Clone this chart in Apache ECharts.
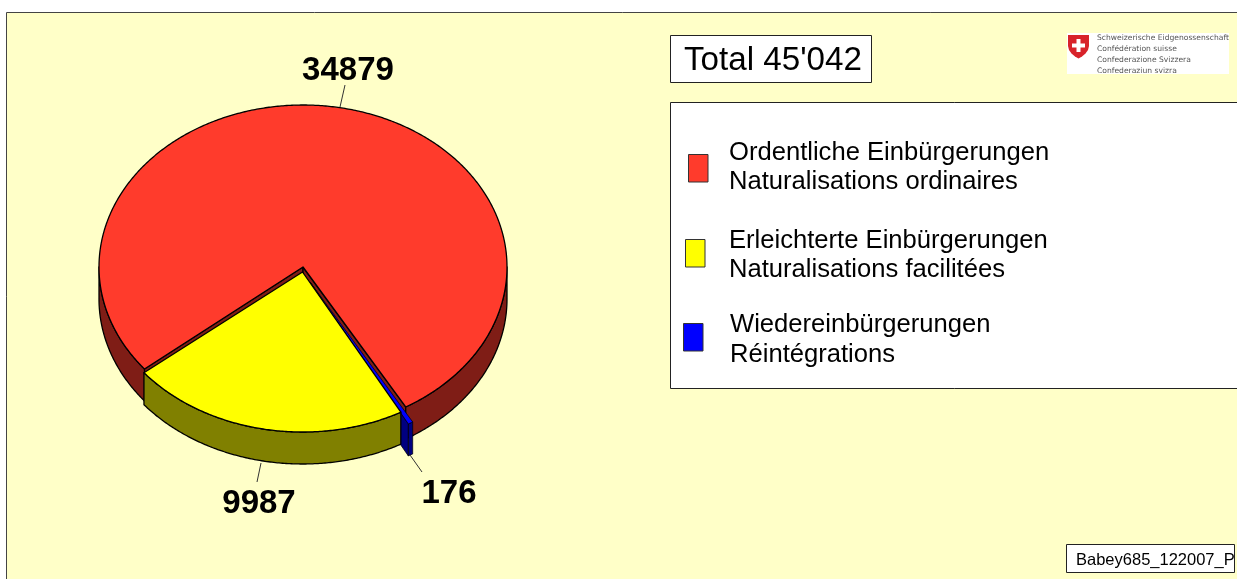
<!DOCTYPE html>
<html>
<head>
<meta charset="utf-8">
<style>html,body{margin:0;padding:0;background:#fff}#c{width:1237px;height:579px}</style>
<script src="https://cdn.jsdelivr.net/npm/echarts@6/dist/echarts.min.js"></script>
</head>
<body>
<div id="c"></div>
<script>
// ---- data ----
const categoriesDe = ['Ordentliche Einbürgerungen', 'Erleichterte Einbürgerungen', 'Wiedereinbürgerungen'];
const categoriesFr = ['Naturalisations ordinaires', 'Naturalisations facilitées', 'Réintégrations'];
const values = [34879, 9987, 176];
const totalLabel = "Total 45'042";
const footerLabel = 'Babey685_122007_P';
const logoLines = ['Schweizerische Eidgenossenschaft', 'Confédération suisse', 'Confederazione Svizzera', 'Confederaziun svizra'];

// ---- styles / layout ----
const topColors = ['#FF3B2C', '#FFFF00', '#0000FF'];
const wallColors = ['#7F1D16', '#808000', '#000080'];
const pie = {cx: 303, cy: 267, rx: 204, depth: 32, start: 141};
const radiusY = [162, 160, 162];                          // per slice
const explode = [[0, 0], [-0.5, 5], [7, 15]];             // per slice offset
const edgeWidth = [1.3, 1.3, 0.7];                        // per slice outline
const paintOrder = [0, 2, 1];                             // clockwise from start, back to front
const valueLabels = [
  {x: 348, y: 71, line: [340, 107, 345, 85]},
  {x: 259, y: 504, line: [261, 463, 257, 482]},
  {x: 449, y: 494, line: [410, 455, 422, 472]}
];
const legendRows = [
  {sx: 688, sy: 154, tx: 729, y1: 153, y2: 182},
  {sx: 685, sy: 239, tx: 729, y1: 241, y2: 270},
  {sx: 683, sy: 323, tx: 730, y1: 325, y2: 355}
];
const BG = '#FFFFC8';
const FONT = '"Liberation Sans", Arial, sans-serif';

const total = values.reduce((a, b) => a + b, 0);
// sweep angles follow the data values
const angles = {};
let acc = pie.start;
paintOrder.forEach(i => {
  const sweep = values[i] / total * 360;
  angles[i] = [acc, acc + sweep];
  acc += sweep;
});

function rim(c, deg, ry) {
  const t = deg * Math.PI / 180;
  return [c[0] + pie.rx * Math.cos(t), c[1] + ry * Math.sin(t)];
}
function arcPoints(c, a, b, ry) {
  const pts = [];
  const n = Math.max(2, Math.ceil(Math.abs(b - a) * 2));
  for (let k = 0; k <= n; k++) pts.push(rim(c, a + (b - a) * k / n, ry));
  return pts;
}
function down(p) { return [p[0], p[1] + pie.depth]; }

function renderItem(params, api) {
  const i = api.value(1);
  const [a, b] = angles[i];
  const ry = radiusY[i];
  const c = [pie.cx + explode[i][0], pie.cy + explode[i][1]];
  const children = [];
  const wall = wallColors[i];
  const poly = (points, fill) => children.push({
    type: 'polygon', shape: {points}, style: {fill, stroke: '#000', lineWidth: edgeWidth[i], lineJoin: 'round'}
  });
  // radial faces that look towards the viewer
  [[a, Math.cos(a * Math.PI / 180) < 0], [b, Math.cos(b * Math.PI / 180) > 0]].forEach(([ang, vis]) => {
    if (!vis) return;
    const p = rim(c, ang, ry);
    poly([c, p, down(p), down(c)], wall);
  });
  // outer wall: only the front half of the rim
  for (let k = 0; k <= 2; k++) {
    const lo = Math.max(a, k * 360), hi = Math.min(b, k * 360 + 180);
    if (hi > lo) {
      const top = arcPoints(c, lo, hi, ry);
      poly(top.concat(top.map(down).reverse()), wall);
    }
  }
  // top face
  poly([c].concat(arcPoints(c, a, b, ry)), topColors[i]);
  // leader and label
  const L = valueLabels[i];
  children.push({type: 'line', shape: {x1: L.line[0], y1: L.line[1], x2: L.line[2], y2: L.line[3]},
    style: {stroke: '#333', lineWidth: 1}});
  children.push({type: 'text', style: {
    text: String(api.value(0)), x: L.x, y: L.y, align: 'center', verticalAlign: 'middle',
    font: 'bold 33px ' + FONT, fill: '#000'}});
  return {type: 'group', children};
}

const boxStyle = {fill: '#fff', stroke: '#222', lineWidth: 1};
// shield outline of the logo
const shield = [[1068,35],[1089,35],[1089,46],[1088,50],[1085.5,53.5],[1082,56.5],[1078.5,58.5],[1075,56.5],[1071.5,53.5],[1069,50],[1068,46]];
const graphic = [
  {type: 'rect', z: -10, shape: {x: 6.5, y: 12.5, width: 1240, height: 580}, style: {fill: BG, stroke: '#444', lineWidth: 1}},
  {type: 'rect', shape: {x: 670.5, y: 35.5, width: 201, height: 47}, style: boxStyle},
  {type: 'text', style: {text: totalLabel, x: 684, y: 61, verticalAlign: 'middle', font: '33.2px ' + FONT, fill: '#000'}},
  {type: 'rect', shape: {x: 670.5, y: 102.5, width: 570, height: 286}, style: boxStyle},
  {type: 'rect', shape: {x: 1066.5, y: 544.5, width: 168, height: 28}, style: boxStyle},
  {type: 'text', style: {text: footerLabel, x: 1076, y: 560, verticalAlign: 'middle', font: '16.5px ' + FONT, fill: '#000'}},
  // logo
  {type: 'rect', shape: {x: 1067, y: 33, width: 162, height: 41}, style: {fill: '#fff'}},
  {type: 'polygon', shape: {points: shield}, style: {fill: '#D8232A'}},
  {type: 'rect', shape: {x: 1076.5, y: 39, width: 4, height: 13}, style: {fill: '#fff'}},
  {type: 'rect', shape: {x: 1072, y: 43.5, width: 13, height: 4}, style: {fill: '#fff'}}
];
logoLines.forEach((t, i) => graphic.push({type: 'text', style: {
  text: t, x: 1097, y: [38.5, 49, 60.5, 71][i], verticalAlign: 'middle', font: '7.6px "DejaVu Sans", sans-serif', fill: '#555'}}));
legendRows.forEach((r, i) => {
  graphic.push({type: 'rect', shape: {x: r.sx + .5, y: r.sy + .5, width: 19.5, height: 27.5}, style: {fill: topColors[i], stroke: '#333', lineWidth: 1}});
  graphic.push({type: 'text', style: {text: categoriesDe[i], x: r.tx, y: r.y1, verticalAlign: 'middle', font: '25.6px ' + FONT, fill: '#000'}});
  graphic.push({type: 'text', style: {text: categoriesFr[i], x: r.tx, y: r.y2, verticalAlign: 'middle', font: '25.6px ' + FONT, fill: '#000'}});
});

const chart = echarts.init(document.getElementById('c'), null, {renderer: 'canvas'});
chart.setOption({
  animation: false,
  backgroundColor: '#fff',
  tooltip: {show: false},
  graphic,
  series: [{
    type: 'custom',
    coordinateSystem: 'none',
    renderItem,
    data: paintOrder.map(i => ({name: categoriesDe[i], value: [values[i], i]})),
    silent: true
  }]
});
</script>
</body>
</html>
